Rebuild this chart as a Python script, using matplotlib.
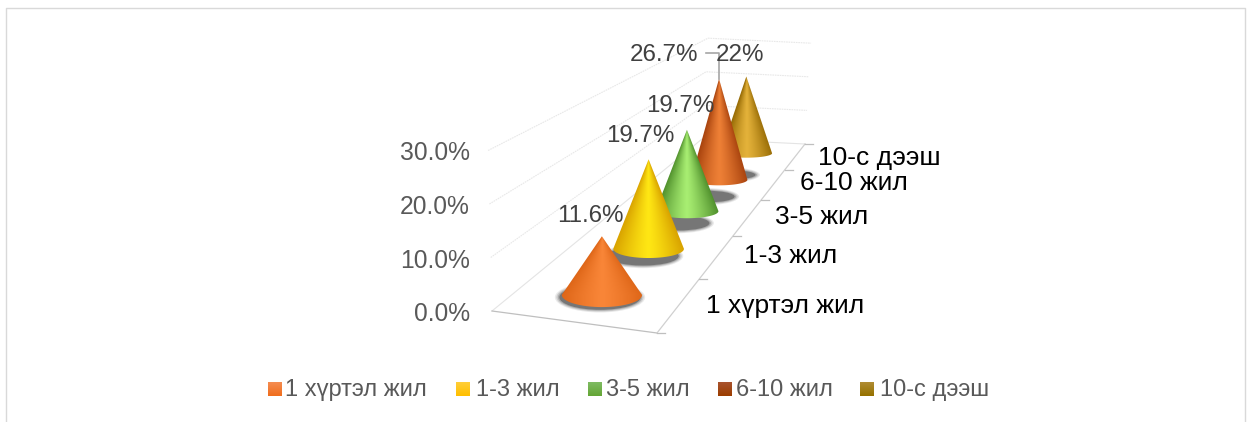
import numpy as np
import matplotlib
matplotlib.use("Agg")
import matplotlib.pyplot as plt
from matplotlib.patches import Polygon, Ellipse
from matplotlib.colors import to_rgb

# ---- data ----
categories = ["1 хүртэл жил", "1-3 жил", "3-5 жил", "6-10 жил", "10-с дээш"]
values = [11.6, 19.7, 19.7, 26.7, 22.0]
value_labels = ["11.6%", "19.7%", "19.7%", "26.7%", "22%"]
axis_ticks = [0, 10, 20, 30]
tick_labels = ["0.0%", "10.0%", "20.0%", "30.0%"]

# ---- styles ----
edge_colors = ["#DE6618", "#D8A200", "#4E8E2B", "#A8430E", "#986C06"]
mid_colors = ["#F98638", "#FFE714", "#A8EE72", "#EE8036", "#E4B23A"]
legend_top = ["#F58C50", "#FFCE38", "#7FBB62", "#A9532E", "#B08C32"]
legend_bot = ["#F06E1E", "#FFBF00", "#64A636", "#9C3D00", "#967100"]
label_anchor = [(590, 216), (640, 136), (680, 106), (664, 55), (740, 55)]
cat_anchor = [(785, 306), (791, 256), (822, 217), (854, 183), (879, 158)]
legend_square_x = [268, 456, 588, 718, 860]
legend_text_x = [285, 476, 606, 736, 880]
GREY = "#595959"
FONT = ["Liberation Sans", "DejaVu Sans"]

plt.rcParams["font.family"] = FONT
fig = plt.figure(figsize=(12.51, 4.22), dpi=100, facecolor="white")
ax = fig.add_axes([0, 0, 1, 1])
ax.set_xlim(0, 1251)
ax.set_ylim(422, 0)
ax.axis("off")

# ---- perspective model of the chart box ----
FL, FR = np.array([492.0, 311.0]), np.array([657.0, 333.0])
BL, BR = np.array([702.0, 139.0]), np.array([805.0, 144.0])
K = 0.592
UNIT = 5.35


def depth_t(d):
    return d * (1 + K) / (1 + K * d)


def scale(d):
    return 1 / (1 + K * d)


def project(x, d, v=0.0, lean=False):
    """x: 0-1 across, d: 0-1 into depth, v: value in percent."""
    t = depth_t(d)
    p = (1 - t) * ((1 - x) * FL + x * FR) + t * ((1 - x) * BL + x * BR)
    dx = (-0.13 + 0.33 * t) * v if lean else 0.0
    return p[0] + dx, p[1] - v * UNIT * scale(d)


# frame
ax.plot([5.5, 5.5, 1244.5, 1244.5], [422, 7.5, 7.5, 422], color="#D9D9D9", lw=1)

# walls
for v in axis_ticks[1:]:
    pts = [project(0, 0, v, True), project(0, 1, v, True), project(1, 1, v, True)]
    ax.plot(*zip(*pts), color="#E8E8E8", lw=0.8, ls=(0, (1.5, 0.7)), zorder=1)

# floor
floor_pts = [project(0, 0), project(0, 1), project(1, 1)]
ax.plot(*zip(*floor_pts), color="#E4E4E4", lw=0.8, zorder=1)
ax.plot(*zip(project(0, 0), project(1, 0)), color="#BFBFBF", lw=0.9, zorder=1)
ax.plot(*zip(project(1, 0), project(1, 1)), color="#D0D0D0", lw=0.9, zorder=1)

# category ticks on the right edge
n = len(categories)
for i in range(n + 1):
    px, py = project(1, i / n)
    ax.plot([px, px + 8], [py, py], color="#BFBFBF", lw=0.9, zorder=1)

# value axis labels
for v, lab in zip(axis_ticks, tick_labels):
    px, py = project(0, 0, v)
    ax.text(470, py + 3, lab, color=GREY, fontsize=17.7, ha="right", va="center")

# category labels
for c, (cx, cy) in zip(categories, cat_anchor):
    ax.text(cx, cy, c, color="black", fontsize=19, ha="center", va="center")

# cones, back to front
for i in range(n - 1, -1, -1):
    d = (i + 0.5) / n
    t = depth_t(d)
    cx, cy = project(0.5, d)
    apex = project(0.5, d, values[i])
    drift = 5 * d
    cx += drift
    apex = (apex[0] + drift, apex[1])
    r = 43 * scale(d) ** 1.2
    ry = r * (0.33 - 0.17 * t)
    z = 10 + 2 * (n - i)

    # soft shadow
    sx, sy = cx - 19 * d, cy + 24 * d
    for grow, alpha in [(5, 0.12), (3.5, 0.2), (2, 0.3), (0.5, 0.65)]:
        ax.add_patch(Ellipse((sx, sy), 2 * (r + grow), 2 * (ry + grow * 0.6),
                             fc="#5A5A5A", ec="none", alpha=alpha, zorder=z))

    # cone outline
    th = np.linspace(np.pi, 0, 60)
    arc = np.column_stack([cx + r * np.cos(th), cy + ry * np.sin(th)])
    outline = np.vstack([[apex], arc])
    poly = Polygon(outline, closed=True, fc="none", ec="none", transform=ax.transData)
    ax.add_patch(poly)

    # radial shading that narrows towards the apex
    x0, x1 = cx - r - 1, cx + r + 1
    y0, y1 = apex[1] - 1, cy + ry + 1
    xs = np.linspace(x0, x1, 160)
    ys = np.linspace(y0, y1, 200)
    X, Y = np.meshgrid(xs, ys)
    frac = np.clip((Y - apex[1]) / (cy - apex[1]), 0.02, 1.0)
    U = np.clip(np.abs(X - (apex[0] + (cx - apex[0]) * frac)) / (r * frac), 0, 1)
    w = (1 - U ** 1.2)[..., None]
    ec, mc = np.array(to_rgb(edge_colors[i])), np.array(to_rgb(mid_colors[i]))
    img = ec + (mc - ec) * w
    im = ax.imshow(img, extent=(x0, x1, y1, y0), origin="upper", aspect="auto",
                   interpolation="bilinear", zorder=z + 1)
    im.set_clip_path(poly)

ax.set_xlim(0, 1251)
ax.set_ylim(422, 0)

# leader line of the largest value
imax = int(np.argmax(values))
d_max = (imax + 0.5) / n
ap = project(0.5, d_max, values[imax])
ax_x = ap[0] + 5 * d_max
ax.plot([ax_x, ax_x, ax_x - 13], [ap[1], 53, 53], color="#A6A6A6", lw=1.2, zorder=30)

# value labels
for lab, (lx, ly) in zip(value_labels, label_anchor):
    ax.text(lx, ly, lab, color="#404040", fontsize=17.4, ha="center", va="center", zorder=40)

# legend
for i, c in enumerate(categories):
    sx = legend_square_x[i]
    grad = np.linspace(to_rgb(legend_top[i]), to_rgb(legend_bot[i]), 14)[:, None, :]
    ax.imshow(grad, extent=(sx, sx + 13.5, 396, 382), aspect="auto", zorder=5,
              interpolation="bilinear")
    ax.text(legend_text_x[i], 390, c, color=GREY, fontsize=17, ha="left", va="center")

ax.set_xlim(0, 1251)
ax.set_ylim(422, 0)
fig.savefig("out.png", dpi=100, facecolor="white")
